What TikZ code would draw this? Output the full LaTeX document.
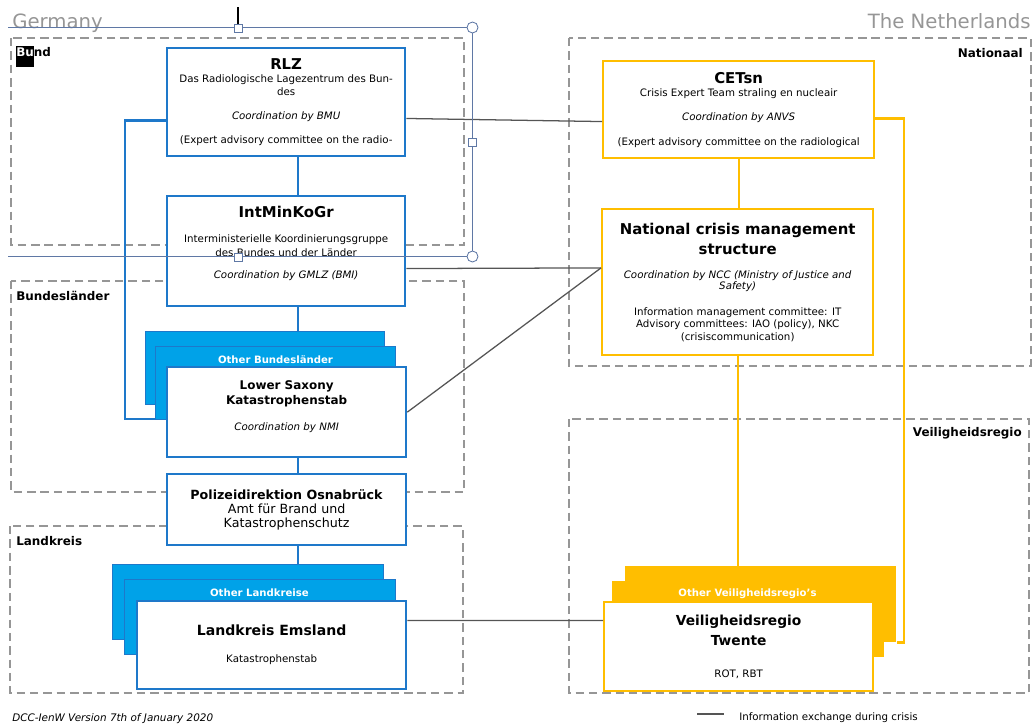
\documentclass[tikz,border=0pt]{standalone}
\usepackage{fontspec}
\setmainfont{DejaVu Sans}
\usetikzlibrary{calc}
\definecolor{deblue}{RGB}{30,120,202}
\definecolor{destack}{RGB}{0,162,232}
\definecolor{nlorange}{RGB}{255,190,0}
\definecolor{regiongray}{RGB}{150,150,150}
\definecolor{infogray}{RGB}{85,85,85}
\definecolor{framegray}{RGB}{95,120,165}
\newcommand\boxsmall{\fontsize{7.3}{9}\selectfont\lineskiplimit=-50pt\relax}
\newcommand\boxtitle{\fontsize{10.6}{12}\selectfont\bfseries}
\newcommand\boxsub{\fontsize{8.5}{10}\selectfont\bfseries}
\newcommand\polfont{\fontsize{9}{9}\selectfont\lineskiplimit=-50pt\relax}
\tikzset{
  debox/.style={draw=deblue, line width=1.6pt, fill=white, anchor=north west,
    inner sep=0pt, align=center, font=\boxsmall},
  nlbox/.style={debox, draw=nlorange},
  destk/.style={draw=deblue, line width=1pt, fill=destack, anchor=north west, inner sep=0pt},
  nlstk/.style={fill=nlorange, anchor=north west, inner sep=0pt},
  stklbl/.style={text=white, font=\fontsize{7.2}{9}\selectfont\bfseries, inner sep=0pt, anchor=base},
  region/.style={draw=regiongray, line width=0.8pt, dash pattern=on 6pt off 3.5pt},
  reglbl/.style={font=\fontsize{8.5}{10}\selectfont\bfseries, inner sep=0pt},
  country/.style={text=regiongray, font=\fontsize{14}{16}\selectfont, inner sep=0pt},
  deline/.style={draw=deblue, line width=2pt},
  nlline/.style={draw=nlorange, line width=1.6pt},
  nlthin/.style={draw=nlorange, line width=1.2pt},
  info/.style={draw=infogray, line width=0.9pt},
  selframe/.style={draw=framegray, line width=0.6pt}
}
\begin{document}
\begin{tikzpicture}[x=0.025cm, y=-0.025cm]
\useasboundingbox (0,0) rectangle (1035,726);
% regions
\draw[region] (11,38) rectangle (464,245);
\draw[region] (11,281) rectangle (464,492);
\draw[region] (10,526) rectangle (463,693);
\draw[region] (569,38) rectangle (1031,366);
\draw[region] (569,419) rectangle (1029,693);
\node[country, anchor=base west] (de) at (12,28) {Germany};
\node[country, anchor=base east] (nl) at (1031,28) {The Netherlands};
\fill[black] (16,46) rectangle (34,67);
\node[reglbl, anchor=base west] (bund) at (16,56) {\textcolor{white}{Bu}nd};
\node[reglbl, anchor=base west] (bula) at (16,300) {Bundesländer};
\node[reglbl, anchor=base west] (lakr) at (16,545) {Landkreis};
\node[reglbl, anchor=base east] (nati) at (1023,57) {Nationaal};
\node[reglbl, anchor=base east] (veil) at (1022,436) {Veiligheidsregio};
% left rail and spine
\coordinate (derail) at (125,0);
\coordinate (despine) at (298,0);
\coordinate (nlrail) at (904,0);
% Germany
\node[debox, minimum width=5.95cm, minimum height=2.7cm] (rlz) at (166,47)
  {{\boxtitle RLZ}\\[0.5pt]
   Das Radiologische Lagezentrum des Bun-\\
   des\\[8.1pt]
   \textit{Coordination by BMU}\\[8.1pt]
   (Expert advisory committee on the radio-};
\node[debox, minimum width=5.95cm, minimum height=2.75cm] (imk) at (166,195)
  {{\boxtitle IntMinKoGr}\\[8.8pt]
   Interministerielle Koordinierungsgruppe\\[1pt]
   des Bundes und der Länder\\[6.6pt]
   \textit{Coordination by GMLZ (BMI)}\\[4pt]\mbox{}};
\draw[deline] ($(rlz.north west)!0.67!(rlz.south west)$) -| (derail |- 0,419) -- (155,419);
\node[destk, minimum width=5.975cm, minimum height=1.825cm] (blo1) at (145,331) {};
\node[destk, minimum width=6cm, minimum height=1.825cm] (blo2) at (155,346) {};
\node[stklbl] (blot) at (275.5,363) {Other Bundesländer};
\node[debox, minimum width=5.975cm, minimum height=2.25cm] (lsx) at (166,366)
  {{\boxsub Lower Saxony}\\[1.7pt]
   {\boxsub Katastrophenstab}\\[8.8pt]
   \textit{Coordination by NMI}\\[0.4pt]\mbox{}};
\node[debox, font=\polfont, minimum width=5.975cm, minimum height=1.775cm] (pol) at (166,473)
  {\textbf{Polizeidirektion Osnabrück}\\[1pt]
   Amt für Brand und\\[1pt]
   Katastrophenschutz};
\node[destk, minimum width=6.775cm, minimum height=1.875cm] (lko1) at (112,564) {};
\node[destk, minimum width=6.775cm, minimum height=1.875cm] (lko2) at (124,579) {};
\node[stklbl] (lkot) at (259.5,596) {Other Landkreise};
\node[debox, minimum width=6.725cm, minimum height=2.2cm] (ems) at (136,600)
  {{\fontsize{10}{12}\selectfont\bfseries Landkreis Emsland}\\[10.2pt]
   Katastrophenstab};
\draw[deline] (rlz.south -| despine) -- (imk.north -| despine);
\draw[deline] (imk.south -| despine) -- (blo1.north -| despine);
\draw[deline] (lsx.south -| despine) -- (pol.north -| despine);
\draw[deline] (pol.south -| despine) -- (lko1.north -| despine);
% The Netherlands
\node[nlbox, minimum width=6.775cm, minimum height=2.425cm] (cet) at (602,60)
  {{\boxtitle CETsn}\\[0.2pt]
   Crisis Expert Team straling en nucleair\\[8.1pt]
   \textit{Coordination by ANVS}\\[8.8pt]
   (Expert advisory committee on the radiological};
\node[nlbox, minimum width=6.775cm, minimum height=3.65cm] (ncm) at (601,208)
  {{\boxtitle National crisis management}\\[5.2pt]
   {\boxtitle structure}\\[8pt]
   \textit{Coordination by NCC (Ministry of Justice and}\\[-1.2pt]
   \textit{Safety)}\\[9.5pt]
   Information management committee: IT\\[-0.5pt]
   Advisory committees: IAO (policy), NKC\\[0.2pt]
   (crisiscommunication)};
\node[nlstk, minimum width=6.775cm, minimum height=1.9cm] (vrb1) at (625,566) {};
\node[nlstk, minimum width=6.8cm, minimum height=1.9cm] (vrb2) at (612,581) {};
\node[stklbl] (vrbt) at (747.5,596) {Other Veiligheidsregio's};
\node[nlbox, minimum width=6.725cm, minimum height=2.225cm] (twe) at (603,601)
  {{\fontsize{9.8}{12}\selectfont\bfseries Veiligheidsregio}\\[5.2pt]
   {\fontsize{9.8}{12}\selectfont\bfseries Twente}\\[13.8pt]
   ROT, RBT};
\draw[nlthin] (cet.south) -- (cet.south |- ncm.north);
\draw[nlthin] (ncm.south) -- (ncm.south |- vrb1.north);
\draw[nlline] ($(cet.north east)!0.588!(cet.south east)$) -| (nlrail |- vrb1.south east) -- (vrb1.south east);
% information exchange
\draw[info] ($(rlz.north east)!0.648!(rlz.south east)$) -- ($(cet.north west)!0.62!(cet.south west)$);
\draw[info] ($(imk.north east)!0.655!(imk.south east)$) -- ($(ncm.north west)!0.404!(ncm.south west)$);
\draw[info] (lsx.east) -- ($(ncm.north west)!0.404!(ncm.south west)$);
\draw[info] ($(ems.north east)!0.227!(ems.south east)$) -- ($(twe.north west)!0.213!(twe.south west)$);
% selection frame
\draw[black, line width=0.8pt] (238,7) -- (238,24);
\draw[selframe] (8,27.5) -- (467,27.5);
\draw[selframe] (472.5,33) -- (472.5,252);
\draw[selframe] (8,256.5) -- (467,256.5);
\draw[selframe, fill=white] (234,24) rectangle (242,32);
\draw[selframe, fill=white] (468.5,138) rectangle (476.5,146);
\draw[selframe, fill=white] (234,253) rectangle (242,261);
\draw[selframe, fill=white] (472.5,27.5) circle (5.5);
\draw[selframe, fill=white] (472.5,256.5) circle (5.5);
% legend
\node[font=\fontsize{7.4}{8}\selectfont\itshape, anchor=base west, inner sep=0pt] (ver) at (12,721)
  {DCC-IenW Version 7th of January 2020};
\coordinate (lga) at (697,714);
\coordinate (lgb) at (724,714);
\draw[info] (lga) -- (lgb);
\node[font=\fontsize{7.3}{8}\selectfont, anchor=base west, inner sep=0pt] (lgt) at (739,720)
  {Information exchange during crisis};
\end{tikzpicture}
\end{document}
